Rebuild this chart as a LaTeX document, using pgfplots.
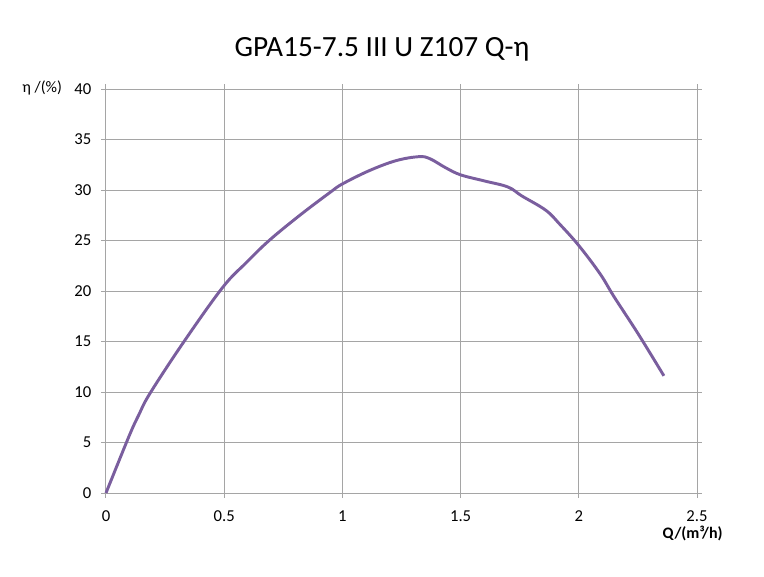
\documentclass[border=0pt]{standalone}
\usepackage{pgfplots}
\pgfplotsset{compat=1.18}
\usepackage{fontspec}
\setmainfont{Carlito}
\definecolor{gridc}{RGB}{165,165,165}
\definecolor{linec}{RGB}{122,94,158}
\begin{document}
\begin{tikzpicture}[x=1pt,y=1pt]
\path[use as bounding box] (-79.5,-62.25) rectangle (493.5,369.75);
\begin{axis}[
  at={(0,0)}, anchor=origin,
  scale only axis, width=443.25pt, height=303pt,
  xmin=0, xmax=2.5, ymin=0, ymax=40,
  xtick={0,0.5,1,1.5,2,2.5}, ytick={0,5,...,40},
  xticklabels={0,0.5,1,1.5,2,2.5},
  grid=major, major grid style={gridc, line width=0.75pt},
  axis line style={gridc, line width=0.75pt},
  tick style={gridc, line width=0.75pt},
  tick align=outside, major tick length=3.5pt,
  ticklabel style={font=\fontsize{12.5}{14}\selectfont},
  /pgf/number format/assume math mode=true,
  x tick label style={yshift=-6pt},
  y tick label style={xshift=-4pt},
  clip=false,
]
\addplot[linec, line width=2.2pt, smooth, tension=0.6] coordinates {
(0,0) (0.097,5.6) (0.138,7.7) (0.187,9.9) (0.333,15.1) (0.495,20.4)
(0.593,22.8) (0.69,25.0) (0.82,27.5) (0.95,29.8) (1.0,30.6) (1.112,31.9)
(1.226,32.9) (1.323,33.3) (1.37,33.1) (1.437,32.2) (1.50,31.5) (1.60,30.9)
(1.70,30.3) (1.76,29.4) (1.86,28.0) (1.92,26.6) (2.0,24.5) (2.09,21.7)
(2.15,19.4) (2.25,15.8) (2.36,11.6)
};
\end{axis}
\node[font=\fontsize{22}{26}\selectfont] at (207,333) {GPA15-7.5 III U Z107 Q-η};
\node[anchor=east, font=\fontsize{12}{14}\selectfont] at (-29.5,303.75) {η /(\%)};
\node[font=\bfseries\fontsize{12}{14}\selectfont] at (440,-30) {Q/(m³/h)};
\end{tikzpicture}
\end{document}
